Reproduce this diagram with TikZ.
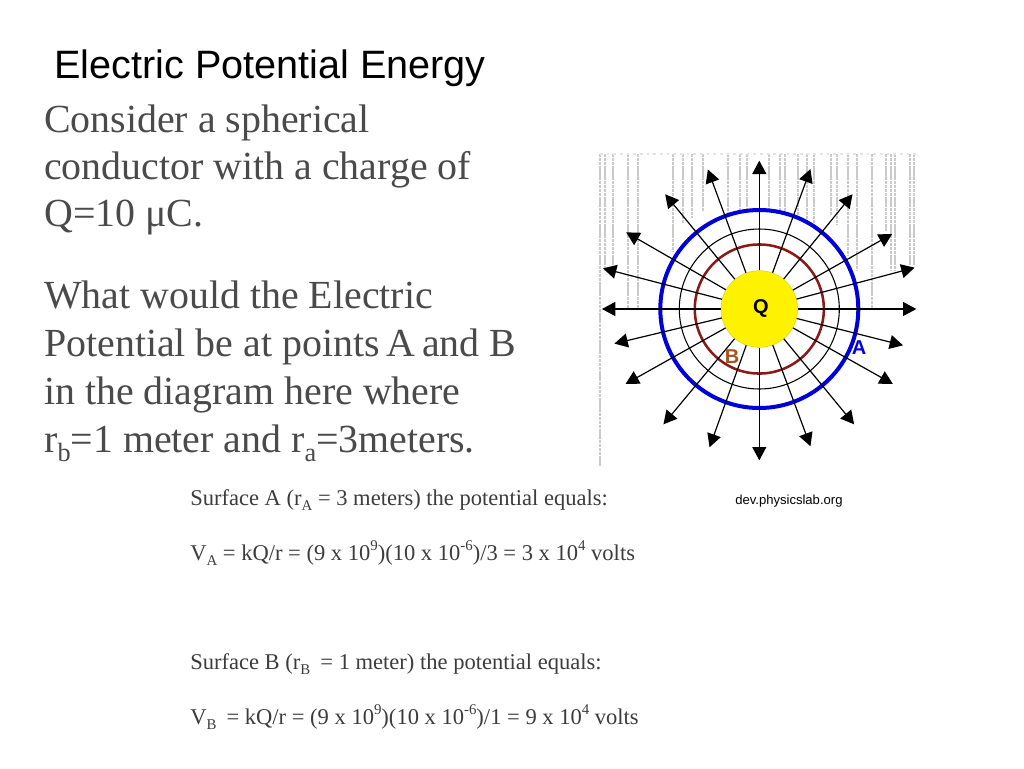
\documentclass[tikz,border=0pt]{standalone}
\usepackage{fontspec}
\usepackage{graphicx}
\setmainfont{Liberation Serif}
\newfontfamily\arialfont{Liberation Sans}
\usetikzlibrary{arrows.meta}
\definecolor{bodygray}{HTML}{4A4A4A}
\definecolor{smallgray}{HTML}{3C3C3C}
\definecolor{hatchgray}{HTML}{CACACA}
\definecolor{ringblue}{HTML}{0000D8}
\definecolor{ringred}{HTML}{8A1A1A}
\definecolor{labelbrown}{HTML}{A5531F}
\newcommand\subtxt[1]{\raisebox{-.25em}{\scalebox{.66}{#1}}}
\newcommand\suptxt[1]{\raisebox{.42em}{\scalebox{.66}{#1}}}
\tikzset{
  x=0.75pt,y=-0.75pt,
  title/.style={anchor=base west,inner sep=0,font=\arialfont\fontsize{29.7pt}{32pt}\selectfont,text=black},
  bodytext/.style={anchor=base west,inner sep=0,font=\fontsize{29.9pt}{32pt}\selectfont,text=bodygray},
  smalltext/.style={anchor=base west,inner sep=0,font=\fontsize{16.9pt}{19pt}\selectfont,text=smallgray},
  credit/.style={anchor=base west,inner sep=0,font=\arialfont\fontsize{9.8pt}{11pt}\selectfont,text=black},
  ring/.style={circle,inner sep=0,fill=none},
  hatch/.style={draw=hatchgray,line width=1.9pt,dash pattern=on 2.4pt off 0.5pt},
  field/.style={draw=black,line width=0.9pt,-{Triangle[length=10pt,width=10.5pt]},shorten >=-1pt},
  marklabel/.style={inner sep=0,font=\arialfont\bfseries\fontsize{15pt}{16pt}\selectfont},
}
\begin{document}
\begin{tikzpicture}
\useasboundingbox (0,0) rectangle (1024,768);
\fill[white] (0,0) rectangle (1024,768);
% hatching
\draw[hatch] (600,154) -- (600,466);
\foreach \hx/\hy in {605/271,613/268,628/308,638/308,673/251,683/223,692/218,703/211,728/214,740/211,747/210,769/211,780/211,785/211,798/215,807/220,814/225,831/215,837/225,848/255,857/271,872/308,886/231,891/271,895/271,910/265,914/265}
  \draw[hatch] (\hx,154) -- (\hx,\hy);
\draw[draw=hatchgray!50,line width=1pt,dash pattern=on 2pt off 3pt] (600,154) -- (918,154);
% rings
\node[ring,draw=ringblue,line width=3pt,minimum size=148.5pt] (blue) at (759.3,309) {};
\node[ring,draw=black,line width=0.8pt,minimum size=120pt] (black) at (759.3,309) {};
\node[ring,draw=ringred,line width=1.9pt,minimum size=96.8pt] (red) at (759.3,309) {};
\node[circle,inner sep=0,fill=yellow,draw=yellow!85!black,line width=0.4pt,minimum size=57.5pt] (q) at (759.3,309) {};
\node[marklabel,text=black] (qlabel) at (761,308) {Q};
\node[marklabel,text=ringblue] (alabel) at (859,348) {A};
\node[marklabel,text=labelbrown] (blabel) at (732,357) {B};
% field line ends
\foreach \n/\tx/\ty in {t1/759.3/162,t2/810/170.3,t3/851.7/195.3,t4/891/234.7,t5/913.3/268,t6/915/309,t7/901.7/345,t8/891.7/383.3,t9/853.3/423.3,t10/810/445,t11/759.3/459,t12/710/446,t13/664.3/423.3,t14/626.7/383.3,t15/615.7/343.3,t16/603.3/309,t17/604.3/268.7,t18/627.3/233,t19/666/195.3,t20/708.3/170.7}
  \coordinate (\n) at (\tx,\ty);
\foreach \n in {t1,t2,t3,t4,t5,t6,t7,t8,t9,t10,t11,t12,t13,t14,t15,t16,t17,t18,t19,t20}
  \draw[field] (q) -- (\n);
% text
\node[title] (ttl) at (54,78) {Electric Potential Energy};
\node[bodytext] (l1) at (44,132) {Consider a spherical};
\node[bodytext] (l2) at (44,179) {conductor with a charge of};
\node[bodytext] (l3) at (44,226) {Q=10 μC.};
\node[bodytext] (l4) at (44,308) {What would the Electric};
\node[bodytext] (l5) at (44,356) {Potential be at points\hspace{-.08em} A\hspace{-.08em} and B};
\node[bodytext] (l6) at (44,404) {in the diagram here where};
\node[bodytext] (l7) at (44,452) {r\subtxt{b}=1 meter and r\subtxt{a}=3meters.};
\node[smalltext] (s1) at (190,505) {Surface A (r\subtxt{A} = 3 meters) the potential equals:};
\node[smalltext] (s2) at (190,560) {V\subtxt{A} = kQ/r = (9 x 10\suptxt{9})(10 x 10\suptxt{-6})/3 = 3 x 10\suptxt{4} volts};
\node[smalltext] (s3) at (190,669) {Surface B (r\subtxt{B}\hspace{.2em} = 1 meter) the potential equals:};
\node[smalltext] (s4) at (190,724) {V\subtxt{B}\hspace{.2em} = kQ/r = (9 x 10\suptxt{9})(10 x 10\suptxt{-6})/1 = 9 x 10\suptxt{4} volts};
\node[credit] (cr) at (735,504) {dev.physicslab.org};
\end{tikzpicture}
\end{document}
